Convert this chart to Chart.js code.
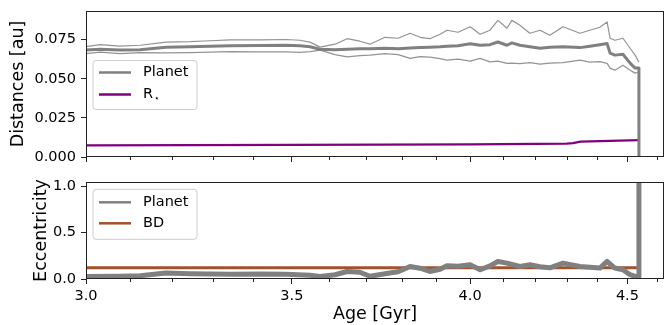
<!DOCTYPE html>
<html>
<head>
<meta charset="utf-8">
<script src="https://cdn.jsdelivr.net/npm/chart.js@4.4.0/dist/chart.umd.min.js"></script>
<style>
  html, body { margin: 0; padding: 0; background: #fff; }
  #wrap { position: relative; width: 665px; height: 325px; }
  canvas { position: absolute; left: 0; }
</style>
</head>
<body>
<div id="wrap">
  <canvas id="top" width="665" height="165" style="top:0"></canvas>
  <canvas id="bottom" width="665" height="160" style="top:165px"></canvas>
</div>
<script>
// ages in Gyr
const ages = [3.000, 3.032, 3.077, 3.124, 3.185, 3.243, 3.292, 3.342, 3.418, 3.485,
  3.521, 3.548, 3.575, 3.615, 3.648, 3.683, 3.711, 3.753, 3.790, 3.824,
  3.853, 3.881, 3.911, 3.931, 3.964, 4.000, 4.030, 4.060, 4.084, 4.112,
  4.127, 4.152, 4.183, 4.215, 4.246, 4.288, 4.343, 4.375, 4.408, 4.432,
  4.442, 4.458, 4.485, 4.509, 4.526, 4.539];

// planet semi-major axis [au]
const semiMajor = [0.0683, 0.0689, 0.0683, 0.0686, 0.0702, 0.0705, 0.0708, 0.0711, 0.0713, 0.0714,
  0.0711, 0.0705, 0.0689, 0.0686, 0.0689, 0.0692, 0.0692, 0.0695, 0.0692, 0.0697,
  0.0699, 0.0702, 0.0705, 0.0708, 0.0711, 0.0724, 0.0714, 0.0718, 0.0735, 0.0714,
  0.0729, 0.0714, 0.0705, 0.0695, 0.0702, 0.0705, 0.0699, 0.0708, 0.0718, 0.0725,
  0.0664, 0.0651, 0.0657, 0.0600, 0.0568, 0.0568];

// apoapsis [au]
const apoapsis = [0.0705, 0.0718, 0.0708, 0.0714, 0.0734, 0.0737, 0.0743, 0.0748, 0.0749, 0.0751,
  0.0746, 0.0734, 0.0702, 0.0721, 0.0756, 0.0740, 0.0721, 0.0765, 0.0759, 0.0791,
  0.0765, 0.0756, 0.0784, 0.0810, 0.0797, 0.0832, 0.0784, 0.0810, 0.0873, 0.0823,
  0.0873, 0.0842, 0.0791, 0.0810, 0.0778, 0.0832, 0.0791, 0.0810, 0.0829, 0.0863,
  0.0759, 0.0746, 0.0759, 0.0695, 0.0651, 0.0606];

// periapsis [au]
const periapsis = [0.0660, 0.0670, 0.0660, 0.0667, 0.0665, 0.0667, 0.0670, 0.0673, 0.0672, 0.0672,
  0.0668, 0.0673, 0.0683, 0.0654, 0.0640, 0.0648, 0.0651, 0.0660, 0.0654, 0.0630,
  0.0641, 0.0638, 0.0629, 0.0619, 0.0625, 0.0613, 0.0630, 0.0608, 0.0613, 0.0598,
  0.0600, 0.0597, 0.0603, 0.0594, 0.0600, 0.0603, 0.0619, 0.0606, 0.0609, 0.0598,
  0.0568, 0.0555, 0.0587, 0.0555, 0.0536, 0.0543];

// stellar radius
const starAges = [3.0, 3.5, 4.0, 4.30, 4.32, 4.345, 4.539];
const starRadius = [0.0074, 0.0077, 0.0081, 0.0086, 0.0089, 0.0098, 0.0108];

// eccentricities
const eccAges = [3.000, 3.077, 3.124, 3.185, 3.243, 3.342, 3.418, 3.485, 3.548, 3.575,
  3.615, 3.648, 3.683, 3.711, 3.753, 3.790, 3.824, 3.853, 3.881, 3.911,
  3.931, 3.964, 4.000, 4.030, 4.060, 4.084, 4.112, 4.152, 4.183, 4.215,
  4.246, 4.288, 4.343, 4.408, 4.432, 4.458, 4.485, 4.509, 4.526, 4.539];
const planetEcc = [0.028, 0.030, 0.035, 0.064, 0.057, 0.051, 0.054, 0.050, 0.040, 0.028,
  0.046, 0.081, 0.073, 0.030, 0.057, 0.078, 0.135, 0.116, 0.081, 0.105,
  0.142, 0.137, 0.153, 0.100, 0.142, 0.189, 0.171, 0.135, 0.153, 0.132,
  0.121, 0.171, 0.135, 0.118, 0.189, 0.118, 0.100, 0.046, 0.028, 0.028];
const bdAges = [3.0, 4.539];
const bdEcc = [0.12, 0.12];

// planet is lost here
const collapseAge = 4.539;

const majorTicks = [3.0, 3.5, 4.0, 4.5];
const minorTicks = [3.1, 3.2, 3.3, 3.4, 3.6, 3.7, 3.8, 3.9, 4.1, 4.2, 4.3, 4.4, 4.6];
const distTicks = [0, 0.025, 0.05, 0.075];
const eccTicks = [0, 0.5, 1.0];

const FONT = "'DejaVu Sans', sans-serif";
const GRAY = "#808080";

const pts = (xs, ys) => xs.map((x, i) => ({ x, y: ys[i] }));

// frame, minor ticks and an inset legend (matplotlib style)
const framePlugin = {
  id: "frame",
  afterDraw(chart, args, opts) {
    const { ctx, chartArea: a } = chart;
    const xs = chart.scales.x;
    ctx.save();
    ctx.strokeStyle = "#222";
    ctx.lineWidth = 1;
    const l = Math.round(a.left) + 0.5, r = Math.round(a.right) - 0.5;
    const t = Math.round(a.top) + 0.5, b = Math.round(a.bottom) - 0.5;
    ctx.strokeRect(l, t, r - l, b - t);

    ctx.beginPath();
    minorTicks.forEach((v) => {
      const px = Math.round(xs.getPixelForValue(v)) + 0.5;
      if (px > a.right) return;
      ctx.moveTo(px, b);
      ctx.lineTo(px, b + 3.5);
    });
    ctx.stroke();

    // legend
    const bx = a.left + opts.box.x, by = a.top + opts.box.y;
    const bw = opts.box.w, bh = opts.box.h, rad = 3;
    ctx.beginPath();
    ctx.moveTo(bx + rad, by);
    ctx.arcTo(bx + bw, by, bx + bw, by + bh, rad);
    ctx.arcTo(bx + bw, by + bh, bx, by + bh, rad);
    ctx.arcTo(bx, by + bh, bx, by, rad);
    ctx.arcTo(bx, by, bx + bw, by, rad);
    ctx.closePath();
    ctx.fillStyle = "rgba(255,255,255,0.8)";
    ctx.fill();
    ctx.strokeStyle = "#cccccc";
    ctx.stroke();

    opts.entries.forEach((e, i) => {
      const y = by + opts.rows[i];
      ctx.strokeStyle = e.color;
      ctx.lineWidth = 2.5;
      ctx.beginPath();
      ctx.moveTo(bx + 6, y);
      ctx.lineTo(bx + 38, y);
      ctx.stroke();
      ctx.fillStyle = "#000";
      ctx.textBaseline = "middle";
      ctx.font = "14.5px " + FONT;
      ctx.fillText(e.label, bx + 50, y);
      if (e.sub) {
        const w = ctx.measureText(e.label).width;
        ctx.font = "9px " + FONT;
        ctx.fillText(e.sub, bx + 51 + w, y + 4);
      }
    });
    ctx.restore();
  },
};

const xAxis = (showLabels, height) => ({
  type: "logarithmic",
  min: 3.0,
  max: 4.625,
  afterBuildTicks: (s) => { s.ticks = majorTicks.map((v) => ({ value: v })); },
  afterFit: (s) => {
    s.height = height;
    s.paddingLeft = 0;
    s.paddingRight = 0;
  },
  grid: { drawOnChartArea: false, tickLength: 5, tickColor: "#222" },
  border: { display: false },
  ticks: {
    display: showLabels,
    color: "#000",
    padding: 4,
    maxRotation: 0,
    autoSkip: false,
    font: { family: FONT, size: 14.5 },
    callback: (v) => Number(v).toFixed(1),
  },
  title: {
    display: showLabels,
    text: "Age [Gyr]",
    color: "#000",
    padding: { top: 0, bottom: 0 },
    font: { family: FONT, size: 17.5 },
  },
});

const yAxis = (min, max, ticks, digits, title, titlePad) => ({
  min,
  max,
  afterBuildTicks: (s) => { s.ticks = ticks.map((v) => ({ value: v })); },
  afterFit: (s) => {
    s.width = 86;
    s.paddingTop = 0;
    s.paddingBottom = 0;
  },
  grid: { drawOnChartArea: false, tickLength: 5, tickColor: "#222" },
  border: { display: false },
  ticks: {
    color: "#000",
    padding: 5,
    font: { family: FONT, size: 14.5 },
    callback: (v) => Number(v).toFixed(digits),
  },
  title: {
    display: true,
    text: title,
    color: "#000",
    padding: { top: titlePad, bottom: 0 },
    font: { family: FONT, size: 17.5 },
  },
});

const common = {
  responsive: false,
  animation: false,
  devicePixelRatio: 1,
  parsing: false,
  elements: { point: { radius: 0 }, line: { tension: 0, borderJoinStyle: "round" } },
  plugins: { legend: { display: false }, tooltip: { enabled: false } },
};

new Chart(document.getElementById("top"), {
  type: "line",
  data: {
    datasets: [
      {
        label: "Planet",
        data: pts(ages, semiMajor).concat([{ x: collapseAge, y: 0 }]),
        borderColor: GRAY,
        borderWidth: 3,
      },
      { data: pts(ages, apoapsis), borderColor: "rgba(128,128,128,0.85)", borderWidth: 1.2 },
      { data: pts(ages, periapsis), borderColor: "rgba(128,128,128,0.85)", borderWidth: 1.2 },
      { label: "R", data: pts(starAges, starRadius), borderColor: "purple", borderWidth: 2.2 },
    ],
  },
  options: {
    ...common,
    layout: { padding: { top: 11, right: 1, left: 0, bottom: 0 } },
    scales: {
      x: xAxis(false, 8),
      y: yAxis(0, 0.0933, distTicks, 3, "Distances [au]", 8),
    },
    plugins: {
      ...common.plugins,
      frame: {
        box: { x: 7, y: 49.5, w: 104, h: 49 },
        rows: [12, 34],
        entries: [
          { label: "Planet", color: GRAY },
          { label: "R", sub: "\u22C6", color: "purple" },
        ],
      },
    },
  },
  plugins: [framePlugin],
});

new Chart(document.getElementById("bottom"), {
  type: "line",
  data: {
    datasets: [
      {
        label: "Planet",
        data: pts(eccAges, planetEcc).concat([{ x: collapseAge, y: 1.2 }]),
        borderColor: GRAY,
        borderWidth: 5,
      },
      { label: "BD", data: pts(bdAges, bdEcc), borderColor: "sienna", borderWidth: 3 },
    ],
  },
  options: {
    ...common,
    layout: { padding: { top: 17, right: 1, left: 0, bottom: 0 } },
    scales: {
      x: xAxis(true, 46),
      y: yAxis(0, 1.046, eccTicks, 1, "Eccentricity", 31),
    },
    plugins: {
      ...common.plugins,
      frame: {
        box: { x: 7, y: 7.3, w: 104, h: 50 },
        rows: [13, 34],
        entries: [
          { label: "Planet", color: GRAY },
          { label: "BD", color: "sienna" },
        ],
      },
    },
  },
  plugins: [framePlugin],
});
</script>
</body>
</html>
